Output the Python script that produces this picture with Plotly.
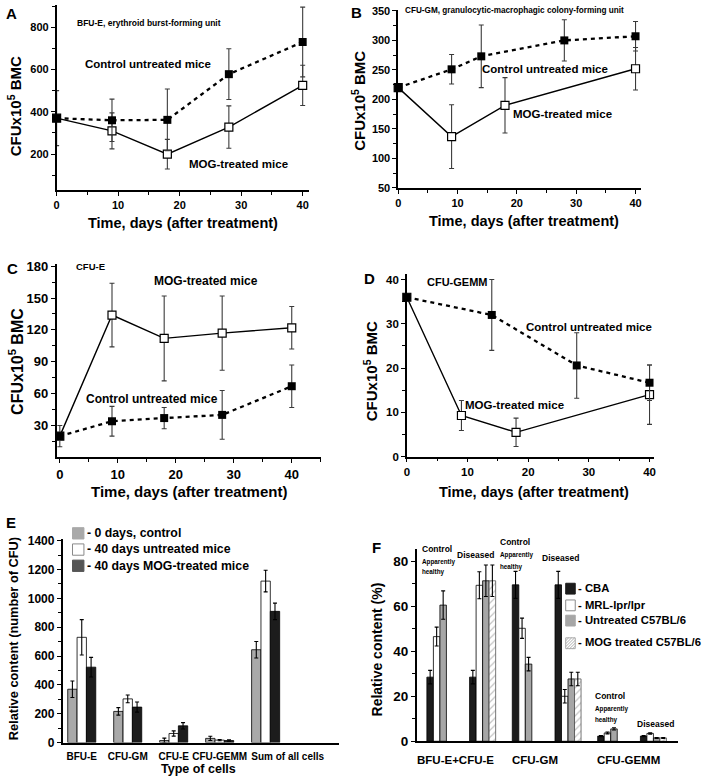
import plotly.graph_objects as go

W, H = 709, 784
FONT = "Liberation Sans, Arial, sans-serif"

# ---------------- data ----------------
# A: BFU-E
a_days_ctrl = [0, 9, 18, 28, 40]
a_ctrl = [370, 360, 362, 578, 730]
a_ctrl_err = [130, 100, 146, 120, 165]
a_days_mog = [0, 9, 18, 28, 40]
a_mog = [370, 310, 200, 328, 525]
a_mog_err = [0, 85, 70, 100, 95]

# B: CFU-GM
b_days_ctrl = [0, 9, 14, 28, 40]
b_ctrl = [220, 251, 273, 300, 307]
b_ctrl_err = [0, 25, 53, 35, 25]
b_days_mog = [0, 9, 18, 40]
b_mog = [220, 137, 190, 252]
b_mog_err = [0, 54, 47, 36]

# C: CFU-E
c_days_ctrl = [0, 9, 18, 28, 40]
c_ctrl = [20, 34, 37, 40, 67]
c_ctrl_err = [10, 14, 10, 23, 20]
c_days_mog = [0, 9, 18, 28, 40]
c_mog = [20, 134, 112, 117, 122]
c_mog_err = [0, 30, 40, 35, 20]

# D: CFU-GEMM
d_days_ctrl = [0, 14, 28, 40]
d_ctrl = [36, 32, 20.6, 16.7]
d_ctrl_err = [0, 8, 7.4, 4]
d_days_mog = [0, 9, 18, 40]
d_mog = [36, 9.3, 5.5, 14]
d_mog_err = [0, 3.4, 3.2, 6.7]

# E: relative content (number of CFU)
e_cells = ["BFU-E", "CFU-GM", "CFU-E", "CFU-GEMM", "Sum of all cells"]
e_series = ["0 days, control", "40 days untreated mice", "40 days MOG-treated mice"]
e_day0 = [370, 216, 14, 29, 644]
e_day0_err = [57, 26, 17, 15, 57]
e_untreated = [730, 303, 63, 17, 1120]
e_untreated_err = [123, 27, 18, 4, 75]
e_mog = [523, 246, 116, 14, 910]
e_mog_err = [68, 35, 22, 5, 57]

# F: relative content (%)
f_groups = ["BFU-E+CFU-E control", "BFU-E+CFU-E diseased",
            "CFU-GM control", "CFU-GM diseased",
            "CFU-GEMM control", "CFU-GEMM diseased"]
f_labels = ["BFU-E+CFU-E", "CFU-GM", "CFU-GEMM"]
f_series = ["CBA", "MRL-lpr/lpr", "Untreated C57BL/6", "MOG treated C57BL/6"]
f_cba = [28.5, 28.5, 69.5, 69.5, 2.3, 2.3]
f_cba_err = [3, 3, 6, 6, 0.3, 0.3]
f_mrl = [46.5, 69.3, 50.2, 20, 3.7, 3.5]
f_mrl_err = [4.2, 6, 4.5, 3, 0.4, 0.3]
f_untreated = [60.5, 71.3, 34.3, 27.7, 5.5, 1.5]
f_untreated_err = [6.3, 7, 3, 3, 0.5, 0.2]
f_mog = [None, 71.3, None, 27.7, None, 1.5]
f_mog_err = [0, 7, 0, 3, 0, 0.2]


def px(x):
    return x / W


def py(y):
    return 1 - y / H


fig = go.Figure()


def add_time_panel(n, days_c, ctrl, ctrl_err, days_m, mog, mog_err):
    xa, ya = f"x{n}", f"y{n}"
    err_style = dict(type="data", visible=True, color="#3a3a3a", thickness=1.1, width=2.5)
    fig.add_trace(go.Scatter(
        x=days_m, y=mog, xaxis=xa, yaxis=ya, mode="lines+markers",
        line=dict(color="black", width=1.4),
        marker=dict(symbol="square", size=8, color="white", line=dict(color="black", width=1.2)),
        error_y=dict(array=mog_err, **err_style), cliponaxis=False, showlegend=False))
    fig.add_trace(go.Scatter(
        x=days_c, y=ctrl, xaxis=xa, yaxis=ya, mode="lines+markers",
        line=dict(color="black", width=2.3, dash="4px,4px"),
        marker=dict(symbol="square", size=8, color="black"),
        error_y=dict(array=ctrl_err, **err_style), cliponaxis=False, showlegend=False))


add_time_panel(1, a_days_ctrl, a_ctrl, a_ctrl_err, a_days_mog, a_mog, a_mog_err)
add_time_panel(2, b_days_ctrl, b_ctrl, b_ctrl_err, b_days_mog, b_mog, b_mog_err)
add_time_panel(3, c_days_ctrl, c_ctrl, c_ctrl_err, c_days_mog, c_mog, c_mog_err)
add_time_panel(4, d_days_ctrl, d_ctrl, d_ctrl_err, d_days_mog, d_mog, d_mog_err)

# E bars
bar_err = dict(type="data", visible=True, color="black", thickness=1.1, width=2)
e_x = list(range(len(e_cells)))
e_colors = ["#a9a9a9", "white", "#1c1c1c"]
for vals, errs, name, col in zip([e_day0, e_untreated, e_mog],
                                 [e_day0_err, e_untreated_err, e_mog_err], e_series, e_colors):
    fig.add_trace(go.Bar(
        x=e_x, y=vals, name=name, xaxis="x5", yaxis="y5", showlegend=False,
        marker=dict(color=col, line=dict(color="black", width=0.8)),
        error_y=dict(array=errs, **bar_err)))

# F bars
f_x = list(range(len(f_groups)))
f_colors = ["#1c1c1c", "white", "#a6a6a6", "white"]
hatch = dict(shape="/", fgcolor="#8a8a8a", size=5, solidity=0.25)
for i, (vals, errs, name, col) in enumerate(zip(
        [f_cba, f_mrl, f_untreated, f_mog],
        [f_cba_err, f_mrl_err, f_untreated_err, f_mog_err], f_series, f_colors)):
    marker = dict(color=col, line=dict(color="black", width=0.8))
    if i == 3:
        marker["pattern"] = hatch
        marker["line"] = dict(color="#555", width=0.8)
    fig.add_trace(go.Bar(
        x=f_x, y=vals, name=name, xaxis="x6", yaxis="y6", showlegend=False,
        marker=marker, error_y=dict(array=errs, **bar_err)))


def axis(dom_px, horizontal, rng, size, anchor, **kw):
    if horizontal:
        domain = [px(dom_px[0]), px(dom_px[1])]
    else:
        domain = [py(dom_px[1]), py(dom_px[0])]
    d = dict(domain=domain, range=rng, anchor=anchor, showline=True, linecolor="black",
             linewidth=1.5, ticks="outside", ticklen=4, tickwidth=1.2, tickcolor="black",
             showgrid=False, zeroline=False,
             tickfont=dict(family=FONT, size=size, color="black", weight="bold"))
    d.update(kw)
    return d


minor5 = dict(ticks="outside", ticklen=3, tickcolor="black", dtick=5)
fig.update_layout(
    xaxis=axis([54, 308], True, [0, 41], 11, "y", dtick=10, minor=minor5),
    yaxis=axis([0, 188], False, [31, 905], 11, "x", dtick=200, tick0=0,
               minor=dict(ticks="outside", ticklen=3, tickcolor="black", dtick=100)),
    xaxis2=axis([398, 643], True, [0, 41], 11, "y2", dtick=10, minor=minor5),
    yaxis2=axis([5.4, 186], False, [50, 351], 11, "x2", dtick=50,
                minor=dict(ticks="outside", ticklen=3, tickcolor="black", dtick=25)),
    xaxis3=axis([54, 320], True, [-0.55, 45], 13, "y3", dtick=10, minor=minor5),
    yaxis3=axis([263, 460], False, [0, 182.4], 13, "x3", tickmode="array",
                tickvals=[30, 60, 90, 120, 150, 180],
                minor=dict(ticks="outside", ticklen=3, tickcolor="black", tickmode="array",
                           tickvals=[15, 45, 75, 105, 135, 165])),
    xaxis4=axis([406.7, 656], True, [0, 40.8], 11.5, "y4", dtick=10, minor=minor5),
    yaxis4=axis([273.3, 459.3], False, [0, 41.3], 11.5, "x4", dtick=10, minor=minor5),
    xaxis5=axis([60, 338.3], True, [-0.417, 5.594], 10, "y5", tickmode="array",
                tickvals=[0, 1, 2, 3, 4.48], ticktext=e_cells, ticks="", ticklabelstandoff=4),
    yaxis5=axis([543.3, 750], False, [0, 1410], 12, "x5", dtick=200,
                minor=dict(ticks="outside", ticklen=3, tickcolor="black", dtick=100)),
    xaxis6=axis([416.7, 680], True, [-0.542, 5.58], 11.5, "y6", tickmode="array",
                tickvals=[0.365, 2.226, 4.42], ticktext=f_labels, ticks="", ticklabelstandoff=7),
    yaxis6=axis([553, 748.7], False, [0, 85.5], 13.5, "x6", dtick=20,
                minor=dict(ticks="outside", ticklen=3, tickcolor="black", dtick=10)),
    barmode="group",
    bargap=0.39,
    bargroupgap=0,
    width=W, height=H,
    margin=dict(l=0, r=0, t=0, b=0),
    paper_bgcolor="white", plot_bgcolor="white",
    font=dict(family=FONT, color="black"),
    showlegend=False,
)

anns = []
shapes = []


def ann(text, x, y, size, xanchor="center", angle=0, bold=True):
    anns.append(dict(text=text, x=px(x), y=py(y), xref="paper", yref="paper",
                     xanchor=xanchor, yanchor="middle", showarrow=False, textangle=angle,
                     font=dict(family=FONT, size=size, color="black",
                               weight="bold" if bold else "normal")))


def swatch(x0, y0, x1, y1, fill, edge, hatched=False):
    shapes.append(dict(type="rect", xref="paper", yref="paper",
                       x0=px(x0), x1=px(x1), y0=py(y1), y1=py(y0),
                       fillcolor=fill, line=dict(color=edge, width=1)))
    if hatched:
        w, h = x1 - x0, y1 - y0
        segs = []
        for k in range(-int(h), int(w), 3):
            t0, t1 = max(0, -k), min(h, w - k)
            if t1 > t0:
                segs.append(f"M{px(x0 + k + t0)},{py(y1 - t0)} L{px(x0 + k + t1)},{py(y1 - t1)}")
        shapes.append(dict(type="path", xref="paper", yref="paper", path=" ".join(segs),
                           line=dict(color="#9a9a9a", width=0.8)))


# hand-drawn legends (tight swatch/text spacing like the original)
for name, col, edge, yc in zip(e_series, ["#a9a9a9", "white", "#555555"],
                               ["#a9a9a9", "#8a8a8a", "#555555"], [537, 553.5, 570]):
    swatch(70, yc - 5.5, 81.5, yc + 6, col, edge)
    ann("- " + name, 82.5, yc, 12.3, xanchor="left")

for i, (name, col, edge, yc) in enumerate(zip(
        f_series, ["#1c1c1c", "white", "#a6a6a6", "white"],
        ["#1c1c1c", "#8a8a8a", "#a6a6a6", "#aaaaaa"], [593.5, 610.5, 626, 649])):
    swatch(566.7, yc - 5.5, 576.3, yc + 5.5, col, edge, hatched=(i == 3))
    ann("- " + name, 577.3, yc - 0.8, 11.3, xanchor="left")

ytitle = "CFUx10<sup>5</sup> BMC"
# panel letters
ann("A", 9, 9, 15)
ann("B", 356, 8, 15)
ann("C", 10, 268, 15)
ann("D", 369, 278, 15)
ann("E", 8, 526, 15)
ann("F", 376, 552, 15)
# A
ann(ytitle, 11, 103, 15, angle=-90)
ann("Time, days (after treatment)", 181.5, 222, 14.5)
ann("BFU-E, erythroid burst-forming unit", 147, 18, 8.5)
ann("Control untreated mice", 146, 60, 11.5)
ann("MOG-treated mice", 237, 162, 11.5)
# B
ann(ytitle, 358, 97, 15, angle=-90)
ann("Time, days (after treatment)", 525, 220, 14.5)
ann("CFU-GM, granulocytic-macrophagic colony-forming unit", 515, 6, 8.2)
ann("Control untreated mice", 546, 65, 11.5)
ann("MOG-treated mice", 563, 111, 11.5)
# C
ann(ytitle, 13, 362, 16, angle=-90)
ann("Time, days (after treatment)", 187, 495, 15)
ann("CFU-E", 88, 266, 9.5)
ann("MOG-treated mice", 204, 281, 12)
ann("Control untreated mice", 150, 401, 12)
# D
ann(ytitle, 370, 372, 15, angle=-90)
ann("Time, days (after treatment)", 535, 495, 14.5)
ann("CFU-GEMM", 458, 282, 11)
ann("Control untreated mice", 590, 327, 11.5)
ann("MOG-treated mice", 515, 407, 11.5)
# E
ann("Relative content (number of CFU)", 10, 644, 12.8, angle=-90)
ann("Type of cells", 197, 777, 12.5)
# F
ann("Relative content (%)", 377, 655, 14, angle=-90)
for x0, yc, ya, yh in [(420, 553, 566, 577), (499, 546, 559, 571), (594, 703, 716, 727)]:
    ann("Control", x0, yc, 8.5, xanchor="left")
    ann("Apparently", x0, ya, 6.3, xanchor="left")
    ann("healthy", x0, yh, 6.3, xanchor="left")
for x0, y0 in [(455, 559), (541, 562), (636, 731)]:
    ann("Diseased", x0, y0, 8.5, xanchor="left")

fig.update_layout(annotations=anns, shapes=shapes)
# the page's default 8px body margin would shift the whole figure; remove it
fig.write_html("out.html", config={"displayModeBar": False},
               post_script="document.body.style.margin='0';")
